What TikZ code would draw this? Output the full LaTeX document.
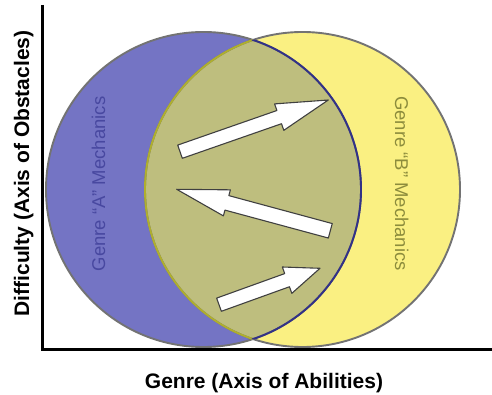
\documentclass[tikz,border=0pt]{standalone}
\usepackage{fontspec}
\setmainfont{Liberation Sans}
\usetikzlibrary{calc}
\definecolor{ablue}{RGB}{116,116,196}
\definecolor{byellow}{RGB}{250,240,130}
\definecolor{olive}{RGB}{190,190,126}
\definecolor{adark}{RGB}{50,50,135}
\definecolor{bline}{RGB}{175,175,45}
\definecolor{atext}{RGB}{72,72,160}
\definecolor{btext}{RGB}{140,140,60}
\definecolor{outl}{RGB}{115,115,115}
\tikzset{
  axisline/.style={line width=3pt, black},
  circline/.style={line width=1.9pt},
  arrowbody/.style={fill=white, draw=black!75, line width=1.1pt, line join=round},
  axislabel/.style={font=\fontsize{21}{21}\selectfont\bfseries, inner sep=0pt},
  genrelabel/.style={font=\fontsize{18.5}{18.5}\selectfont, inner sep=0pt},
}
\newcommand\blockarr[5]{%
  \coordinate (hb) at ($(#2)!#5!(#1)$);
  \filldraw[arrowbody] ($(#1)!#3!90:(#2)$) -- ($(hb)!#3!90:(#2)$) -- ($(hb)!#4!90:(#2)$) -- (#2)
    -- ($(hb)!#4!-90:(#2)$) -- ($(hb)!#3!-90:(#2)$) -- ($(#1)!#3!-90:(#2)$) -- cycle;}
\begin{document}
\begin{tikzpicture}[x=1pt,y=-1pt]
\useasboundingbox (0,0) rectangle (492,395);
\coordinate (ca) at (203.5,189.5);
\coordinate (cb) at (302.5,189.5);
% fills
\fill[ablue] (ca) circle [radius=157.5pt];
\fill[byellow] (cb) circle [radius=157.5pt];
\begin{scope}
  \clip (ca) circle [radius=157.5pt];
  \fill[olive] (cb) circle [radius=157.5pt];
\end{scope}
% outlines
\draw[outl, circline] (ca) circle [radius=157.5pt];
\draw[outl, circline] (cb) circle [radius=157.5pt];
\begin{scope}
  \clip (ca) circle [radius=157.5pt];
  \draw[bline, circline] (cb) circle [radius=157.5pt];
\end{scope}
\begin{scope}
  \clip (cb) circle [radius=157.5pt];
  \draw[adark, circline] (ca) circle [radius=157.5pt];
\end{scope}
% labels in circles
\node[genrelabel, text=atext, rotate=90, anchor=base] (la) at (105,184) {Genre “A” Mechanics};
\node[genrelabel, text=btext, rotate=-90, anchor=base] (lb) at (395,183.5) {Genre “B” Mechanics};
% arrows
\coordinate (t1) at (180,151.7); \coordinate (p1) at (328.3,100);
\coordinate (t2) at (330.3,230.8); \coordinate (p2) at (176.7,189.3);
\coordinate (t3) at (219,304.7); \coordinate (p3) at (320,268.3);
\blockarr{t1}{p1}{7pt}{14pt}{52pt}
\blockarr{t2}{p2}{7.5pt}{13.5pt}{52pt}
\blockarr{t3}{p3}{7pt}{14pt}{35pt}
% axes
\coordinate (o) at (42,349);
\coordinate (ytop) at (42,5);
\coordinate (xend) at (492,349);
\draw[axisline] (ytop) -- (o) -- (xend);
\node[axislabel, rotate=90, anchor=base] (ylab) at (29,173.5) {Difficulty (Axis of Obstacles)};
\node[axislabel, anchor=base] (xlab) at (264,388) {Genre (Axis of Abilities)};
\end{tikzpicture}
\end{document}
